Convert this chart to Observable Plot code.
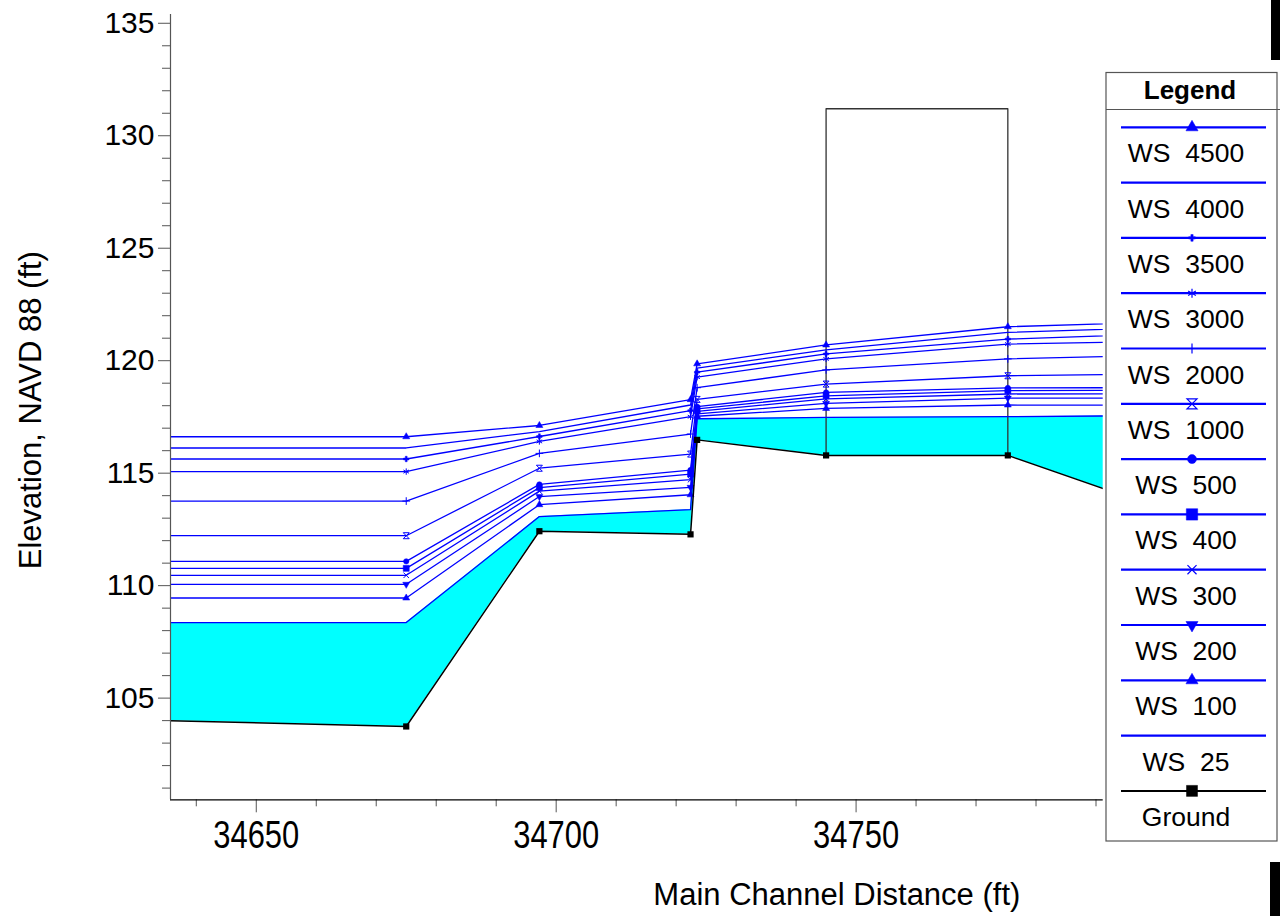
<!DOCTYPE html>
<html><head><meta charset="utf-8">
<script src="https://cdn.jsdelivr.net/npm/d3@7"></script>
<script src="https://cdn.jsdelivr.net/npm/@observablehq/plot@0.6"></script>
<style>
body{margin:0;background:#fff;}
#wrap{position:relative;width:1280px;height:916px;overflow:hidden;font-family:"Liberation Sans",Arial,sans-serif;background:#fff;}
#legend{position:absolute;left:0;top:0;}
.bar{position:absolute;background:#000;}
</style></head><body><div id="wrap"></div>
<script>
// ---- data ----
const stations = [34620, 34675.0, 34697.2, 34722.4, 34723.5, 34745.0, 34775.3, 34800];
const ground   = [104.10, 103.74, 112.42, 112.28, 116.48, 115.79, 115.79, 113.50];
const seriesNames = ["WS 4500","WS 4000","WS 3500","WS 3000","WS 2000","WS 1000","WS 500","WS 400","WS 300","WS 200","WS 100","WS 25"];
const ws4500 = [116.62,116.62,117.12,118.27,119.86,120.70,121.51,121.71];
const ws4000 = [116.12,116.12,116.85,118.03,119.67,120.48,121.26,121.46];
const ws3500 = [115.63,115.63,116.63,117.78,119.49,120.30,120.96,121.19];
const ws3000 = [115.07,115.07,116.41,117.51,119.27,120.08,120.74,120.85];
const ws2000 = [113.76,113.76,115.88,116.74,118.80,119.59,120.08,120.24];
const ws1000 = [112.22,112.22,115.22,115.85,118.28,118.96,119.33,119.41];
const ws500  = [111.08,111.08,114.50,115.14,117.96,118.59,118.79,118.80];
const ws400  = [110.77,110.77,114.36,114.96,117.86,118.44,118.67,118.68];
const ws300  = [110.46,110.46,114.20,114.71,117.75,118.30,118.52,118.53];
const ws200  = [110.06,110.06,113.96,114.37,117.64,118.10,118.34,118.33];
const ws100  = [109.45,109.45,113.60,114.04,117.53,117.88,118.03,118.02];
const ws25   = [108.36,108.36,113.07,113.38,117.42,117.48,117.51,117.56];
const wsValues = [ws4500, ws4000, ws3500, ws3000, ws2000, ws1000, ws500, ws400, ws300, ws200, ws100, ws25];
const bridgeStations = [34745.0, 34775.3];
const bridgeTop = 131.2;
const xMajorTicks = [34650, 34700, 34750];
const xMinorTicks = [34640,34660,34670,34680,34690,34710,34720,34730,34740,34760,34770,34780,34790];
const yMajorTicks = [105,110,115,120,125,130,135];
const yMinorTicks = [101,102,103,104,106,107,108,109,111,112,113,114,116,117,118,119,121,122,123,124,126,127,128,129,131,132,133,134];
const xTitle = "Main Channel Distance (ft)";
const yTitle = "Elevation, NAVD 88 (ft)";
const legendTitle = "Legend";
const groundName = "Ground";

// ---- derived tables ----
const xDomain = [34635.7, 34791.2];
const yDomain = [100.48, 135.39];
const BLUE = "#0000FF";
const rows = stations.map((x, i) => ({x, ground: ground[i], ws25: ws25[i]}));
const wsLong = [];
seriesNames.forEach((s, k) => stations.forEach((x, i) => wsLong.push({series: s, x, y: wsValues[k][i]})));
const groundRows = stations.map((x, i) => ({x, y: ground[i]}));
const bridgeRows = [
  {x: bridgeStations[0], y: ground[stations.indexOf(bridgeStations[0])]},
  {x: bridgeStations[0], y: bridgeTop},
  {x: bridgeStations[1], y: bridgeTop},
  {x: bridgeStations[1], y: ground[stations.indexOf(bridgeStations[1])]}
];

const hourglass = {draw(ctx, size){ const r = Math.sqrt(size/Math.PI); ctx.moveTo(-r,-r); ctx.lineTo(r,-r); ctx.lineTo(-r,r); ctx.lineTo(r,r); ctx.closePath(); }};
const triDown = {draw(ctx, size){ const y = -Math.sqrt(size/(Math.sqrt(3)*3)); ctx.moveTo(0,-2*y); ctx.lineTo(-Math.sqrt(3)*y, y); ctx.lineTo(Math.sqrt(3)*y, y); ctx.closePath(); }};
const markerSpec = {
  "WS 4500": {symbol: d3.symbolTriangle, fill: true,  r: 2.6, lr: 4.5},
  "WS 3500": {symbol: d3.symbolCross,    fill: true,  r: 2.3, lr: 2.8},
  "WS 3000": {symbol: d3.symbolAsterisk, fill: false, r: 3.0, lr: 4.2},
  "WS 2000": {symbol: d3.symbolPlus,     fill: false, r: 2.6, lr: 3.3},
  "WS 1000": {symbol: hourglass,         fill: false, r: 3.0, lr: 5.0},
  "WS 500":  {symbol: d3.symbolCircle,   fill: true,  r: 2.7, lr: 4.5},
  "WS 400":  {symbol: d3.symbolSquare,   fill: true,  r: 3.4, lr: 6.4},
  "WS 300":  {symbol: d3.symbolTimes,    fill: false, r: 2.6, lr: 4.2},
  "WS 200":  {symbol: triDown,           fill: true,  r: 2.6, lr: 4.5},
  "WS 100":  {symbol: d3.symbolTriangle, fill: true,  r: 2.6, lr: 4.5}
};

const dotMarks = Object.entries(markerSpec).map(([s, m]) =>
  Plot.dot(wsLong.filter(d => d.series === s), {
    x: "x", y: "y", symbol: m.symbol, r: m.r,
    fill: m.fill ? BLUE : "none", stroke: BLUE, strokeWidth: m.fill ? 0.5 : 1, clip: true
  })
);

const svg = Plot.plot({
  width: 1280, height: 916,
  marginLeft: 170, marginRight: 177.3, marginTop: 14, marginBottom: 116.7,
  style: {fontFamily: "'Liberation Sans', Arial, sans-serif", fontSize: "30px", background: "white", overflow: "visible"},
  x: {domain: xDomain, label: null},
  y: {domain: yDomain, label: null},
  marks: [
    Plot.areaY(rows, {x: "x", y1: "ground", y2: "ws25", fill: "#00FFFF", clip: true}),
    Plot.line(bridgeRows, {x: "x", y: "y", stroke: "#333", strokeWidth: 1.3}),
    Plot.line(wsLong, {x: "x", y: "y", z: "series", stroke: BLUE, strokeWidth: 1.3, clip: true}),
    ...dotMarks,
    Plot.line(groundRows, {x: "x", y: "y", stroke: "#000", strokeWidth: 1.5, clip: true}),
    Plot.dot(groundRows, {x: "x", y: "y", symbol: "square", r: 3.5, fill: "#000", clip: true}),
    Plot.axisY(yMajorTicks, {tickSize: 12, tickPadding: 4, fontSize: 30, stroke: "#555", label: null}),
    Plot.axisY(yMinorTicks, {tickSize: 8, tickFormat: () => "", stroke: "#555", label: null}),
    Plot.axisX(xMajorTicks, {tickSize: 13, tickPadding: 8, fontSize: 38, stroke: "#555", label: null, tickFormat: d => String(d)}),
    Plot.axisX(xMinorTicks, {tickSize: 7, tickFormat: () => "", stroke: "#555", label: null}),
    Plot.ruleX([xDomain[0]], {stroke: "#555", strokeWidth: 1.2}),
    Plot.ruleY([yDomain[0]], {stroke: "#000", strokeWidth: 1.2}),
    Plot.text([xTitle], {text: d => d, frameAnchor: "bottom", textAnchor: "middle", dx: 200, dy: 105, fontSize: 31}),
    Plot.text([yTitle], {text: d => d, frameAnchor: "left", textAnchor: "middle", rotate: -90, dx: -139, dy: 3, fontSize: 31})
  ]
});
const wrap = document.getElementById("wrap");
wrap.appendChild(svg);
d3.select(svg).selectAll('g[aria-label="x-axis tick label"] text')
  .filter(function(){ return this.textContent.trim() !== ""; })
  .attr("textLength", 86).attr("lengthAdjust", "spacingAndGlyphs");

// ---- legend box ----
const lg = d3.select(wrap).append("svg").attr("id", "legend").attr("width", 1280).attr("height", 916)
  .style("font-family", "'Liberation Sans', Arial, sans-serif");
lg.append("rect").attr("x", 1106).attr("y", 72.5).attr("width", 171).attr("height", 768.5)
  .attr("fill", "white").attr("stroke", "#555").attr("stroke-width", 1.2);
lg.append("line").attr("x1", 1106).attr("x2", 1280).attr("y1", 109.5).attr("y2", 109.5).attr("stroke", "#555").attr("stroke-width", 1.2);
lg.append("text").attr("x", 1190).attr("y", 99).attr("text-anchor", "middle")
  .attr("font-size", 26).attr("font-weight", "bold").text(legendTitle);
const legendNames = [...seriesNames, groundName];
legendNames.forEach((name, i) => {
  const y = 127.3 + 55.3 * i;
  const isGround = name === groundName;
  const col = isGround ? "#000" : BLUE;
  lg.append("line").attr("x1", 1121).attr("x2", 1266).attr("y1", y).attr("y2", y)
    .attr("stroke", col).attr("stroke-width", isGround ? 2 : 2.2);
  const m = isGround ? {symbol: d3.symbolSquare, fill: true, lr: 6.2} : markerSpec[name];
  if (m) {
    lg.append("path").attr("transform", `translate(1192,${y})`)
      .attr("d", d3.symbol(m.symbol, Math.PI * m.lr * m.lr)())
      .attr("fill", m.fill ? col : "none").attr("stroke", col).attr("stroke-width", m.fill ? 0.5 : 1.2);
  }
  lg.append("text").attr("x", 1186).attr("y", y + 35).attr("text-anchor", "middle")
    .attr("font-size", 26.5).attr("fill", "#000").text(name.replace(" ", "\u00a0 "));
});

// edge bars seen at the right border of the reference picture
[[1271, 0, 9, 60], [1270, 862, 10, 54]].forEach(([l, t, w, h]) => {
  const d = document.createElement("div");
  d.className = "bar"; d.style.left = l + "px"; d.style.top = t + "px"; d.style.width = w + "px"; d.style.height = h + "px";
  wrap.appendChild(d);
});
</script></body></html>
